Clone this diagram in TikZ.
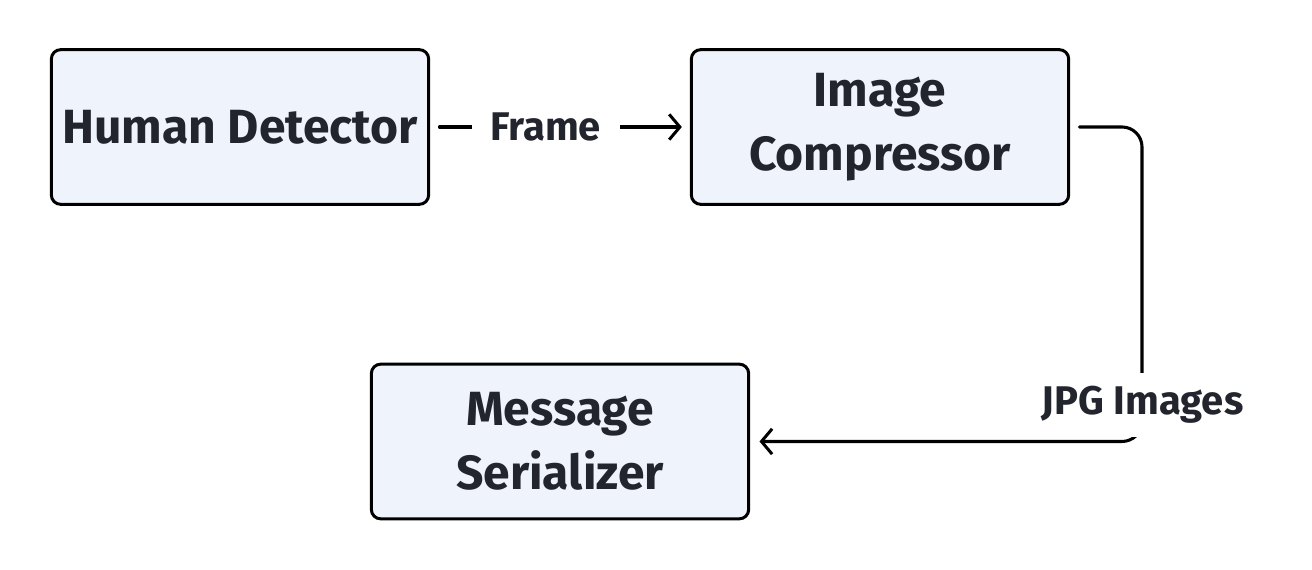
\documentclass[tikz,border=0pt]{standalone}
\usepackage{fontspec}
\setmainfont{Fira Sans}
\usepackage{tikz}
\usetikzlibrary{positioning,arrows.meta}
\definecolor{boxfill}{RGB}{239,244,252}
\definecolor{txtclr}{RGB}{34,37,45}
\tikzset{
  block/.style={rectangle,draw=black,line width=2.25pt,fill=boxfill,
                rounded corners=7pt,minimum width=283pt,minimum height=116pt,
                align=center,text=txtclr,font=\fontsize{36}{48}\selectfont\bfseries},
  conn/.style={-{Straight Barb[length=8pt,width=19pt,line width=2.25pt]},
               line width=2.3pt,line cap=round},
  lbl/.style={fill=white,text=txtclr,inner xsep=14pt,inner ysep=10pt,
              font=\fontsize{30}{34}\selectfont\bfseries},
}
\begin{document}
\begin{tikzpicture}[x=0.75pt, y=0.75pt]
\useasboundingbox (0,0) rectangle (1312,570);

\node[block] (hd) at (240,443) {Human Detector};
\node[block] (ic) at (880,443) {Image\\Compressor};
\node[block] (ms) at (560,128.5) {Message\\Serializer};

% frames to the compressor
\draw[conn, shorten <=7pt, shorten >=6pt] (hd.east) -- node[lbl, pos=0.445] (frame) {Frame} (ic.west);

% compressed images to the serializer
\coordinate (jpgturn) at (1142,443);
\draw[conn, rounded corners=15pt, shorten <=7pt, shorten >=7pt] (ic.east) -- (jpgturn) |- (ms.east);
\node[lbl] (jpg) at (1142.5,165) {JPG Images};
\end{tikzpicture}
\end{document}
